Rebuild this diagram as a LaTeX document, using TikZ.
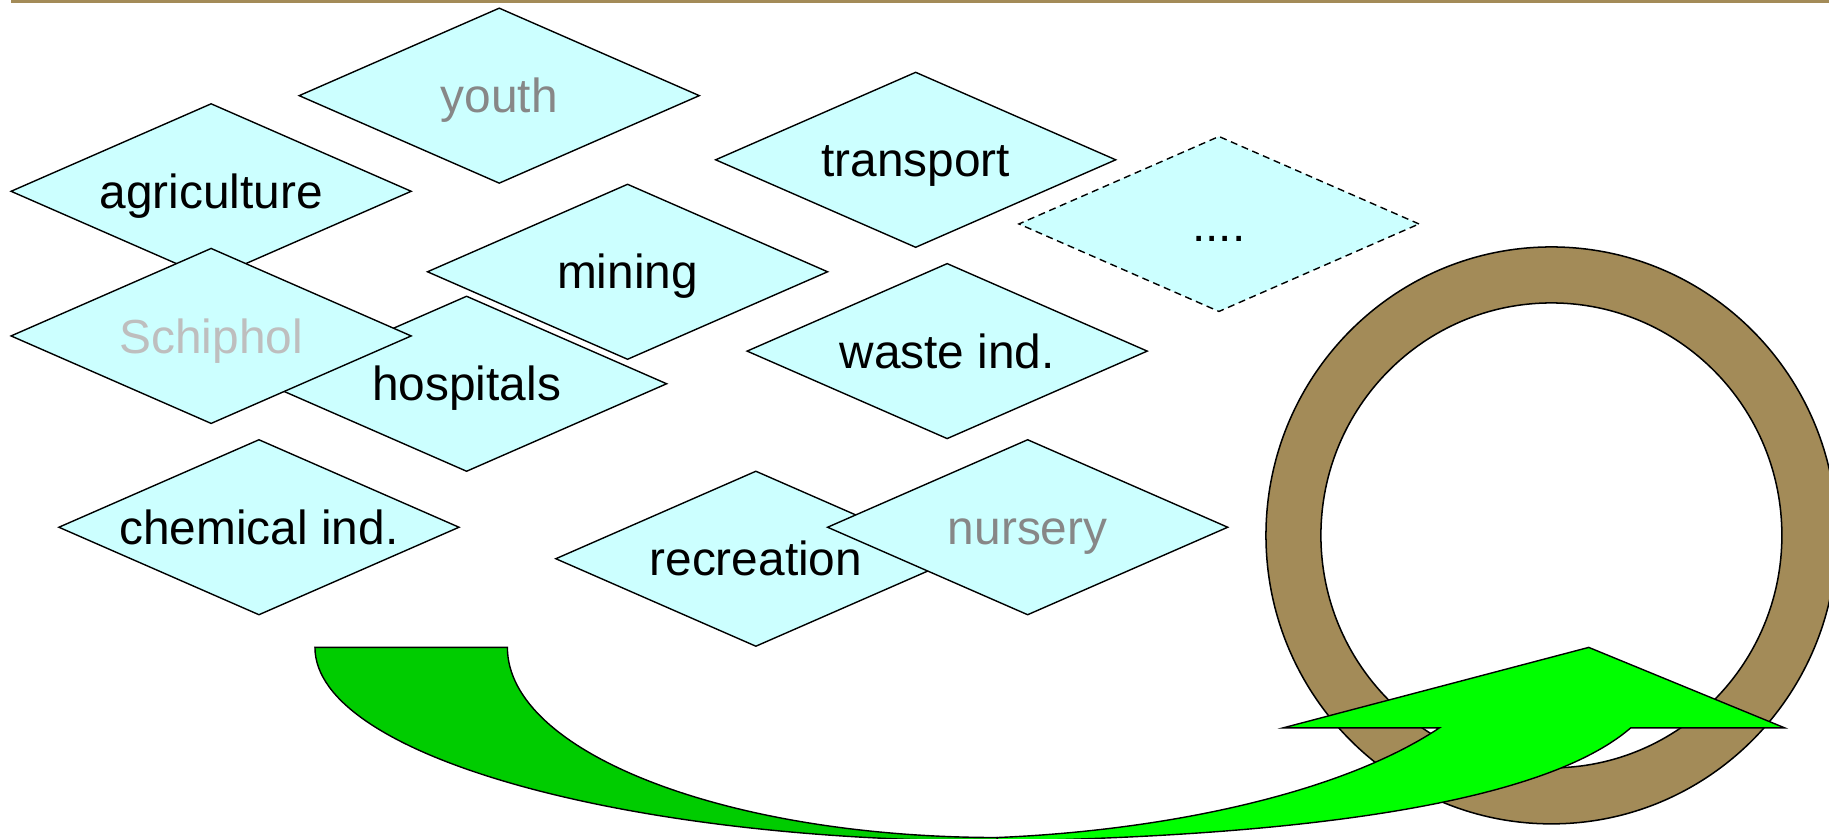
\documentclass[tikz,border=0pt]{standalone}
\usepackage{fontspec}
\setmainfont{Liberation Sans}
\usetikzlibrary{shapes.geometric}
\definecolor{diafill}{HTML}{CCFFFF}
\definecolor{ringcol}{RGB}{163,139,88}
\definecolor{darkgreen}{HTML}{00CC00}
\definecolor{brightgreen}{HTML}{00FF00}
\definecolor{graytxt}{HTML}{878787}
\definecolor{lighttxt}{HTML}{BEBEBE}
\tikzset{
  dia/.style={shape=diamond, draw=black, fill=diafill, line width=1.2pt,
    minimum width=343pt, minimum height=150pt, aspect=2.287,
    inner sep=0pt, outer sep=0pt, text height=30pt, text depth=0.6pt,
    font=\fontsize{41}{49}\selectfont},
  dottedline/.style={dash pattern=on 6pt off 4pt},
  ringstyle/.style={fill=ringcol, draw=black, line width=1.3pt, even odd rule},
  backarrow/.style={fill=darkgreen, draw=black, line width=1.2pt},
  frontarrow/.style={fill=brightgreen, draw=black, line width=1.2pt},
}
\begin{document}
\begin{tikzpicture}[x=1pt, y=-1pt]
\useasboundingbox (0,0) rectangle (1568,719.2);
% top rule
\fill[ringcol] (9.4,0) rectangle (1568,3);
% diamonds
\node[dia, text=graytxt] (youth) at (428,82) {youth};
\node[dia] (agri) at (181,164) {agriculture};
\node[dia] (transport) at (785,137) {transport};
\node[dia, dottedline] (more) at (1045,192) {....};
\node[dia] (hosp) at (400,329) {hospitals};
\node[dia] (mining) at (538,233) {mining};
\node[dia, text=lighttxt] (schiphol) at (181,288) {Schiphol};
\node[dia] (waste) at (812,301) {waste ind.};
\node[dia] (chem) at (222,452) {chemical ind.};
\node[dia] (recr) at (648,479) {recreation};
\node[dia, text=graytxt] (nursery) at (881,452) {nursery};
% ring
\path[ringstyle] (1330,459) ellipse [x radius=244.7pt, y radius=247.3pt]
                 (1330,459) ellipse [x radius=197.6pt, y radius=199.3pt];
% curved arrow: back part
\path[backarrow] (270,555) -- (435,555)
  .. controls (435,645) and (623,718) .. (855,718)
  -- (855,721)
  .. controls (531.9,721) and (270,646.7) .. (270,555) -- cycle;
% curved arrow: front part with head
\path[frontarrow] (855,718)
  .. controls (1000,712) and (1150,680) .. (1234,624)
  -- (1100,624) -- (1362,555) -- (1530,624) -- (1398,624)
  .. controls (1310,700) and (1050,718) .. (855,721) -- cycle;
\end{tikzpicture}
\end{document}
